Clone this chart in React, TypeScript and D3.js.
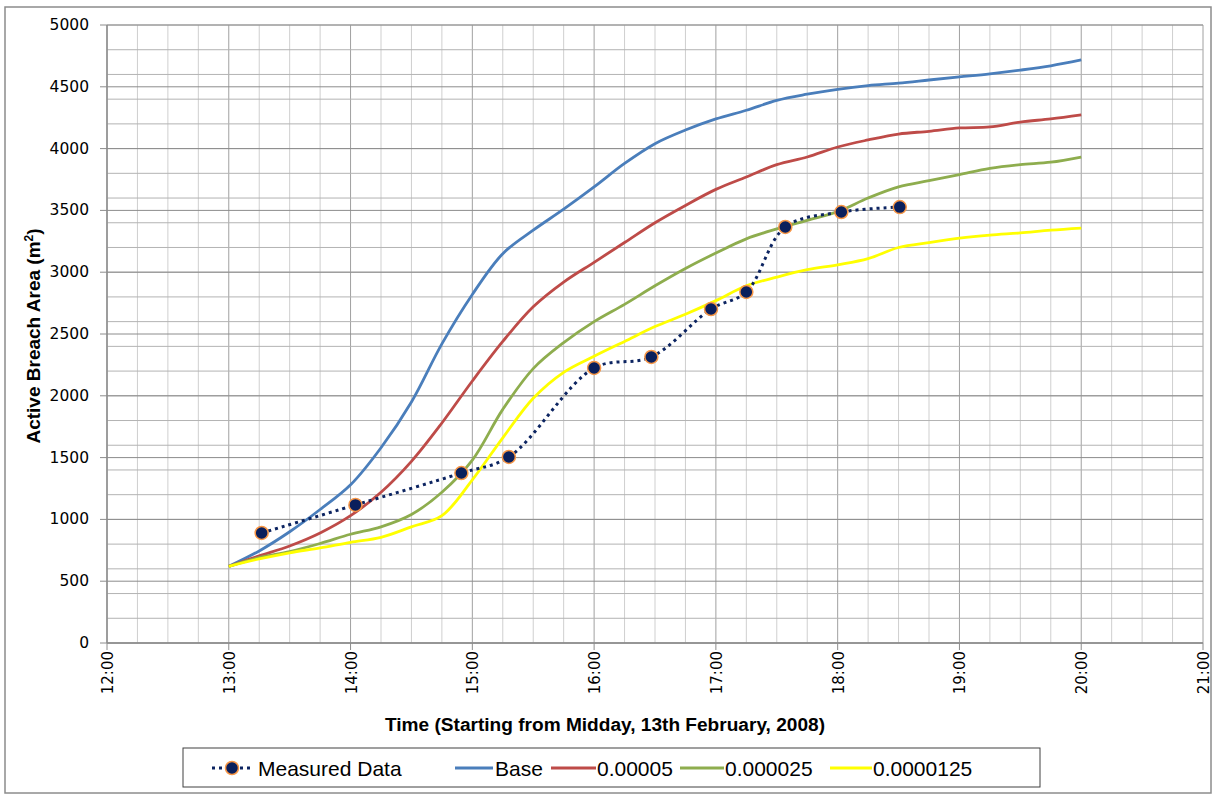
import React from "react";
import * as d3 from "d3";

// time in hours since midnight, quarter-hour steps from 13:00 to 20:00
const hours = [
  13, 13.25, 13.5, 13.75, 14, 14.25, 14.5, 14.75, 15, 15.25, 15.5, 15.75, 16,
  16.25, 16.5, 16.75, 17, 17.25, 17.5, 17.75, 18, 18.25, 18.5, 18.75, 19,
  19.25, 19.5, 19.75, 20,
];

const baseVals = [
  620, 745, 900, 1080, 1280, 1580, 1950, 2420, 2820, 3150, 3340, 3510, 3690,
  3880, 4040, 4150, 4240, 4310, 4390, 4440, 4480, 4510, 4530, 4555, 4580,
  4605, 4635, 4670, 4717,
];
const r5Vals = [
  620, 705, 785, 890, 1030, 1220, 1470, 1780, 2120, 2440, 2720, 2920, 3080,
  3240, 3400, 3540, 3670, 3770, 3870, 3932, 4013, 4070, 4118, 4140, 4167,
  4175, 4215, 4240, 4272,
];
const r25Vals = [
  620, 690, 740, 805, 880, 940, 1040, 1220, 1480, 1890, 2220, 2430, 2600,
  2740, 2890, 3030, 3155, 3270, 3350, 3420, 3490, 3600, 3690, 3740, 3790,
  3840, 3870, 3890, 3932,
];
const r125Vals = [
  620, 680, 730, 770, 815, 855, 940, 1030, 1320, 1660, 1980, 2190, 2320,
  2440, 2560, 2660, 2770, 2890, 2960, 3020, 3060, 3110, 3200, 3240, 3275,
  3300, 3318, 3340, 3357,
];

const measuredHours = [
  13.27, 14.04, 14.91, 15.3, 16.0, 16.47, 16.96, 17.25, 17.57, 18.03, 18.51,
];
const measuredVals = [
  890, 1117, 1375, 1505, 2225, 2314, 2702, 2840, 3366, 3487, 3527,
];

const xTicks = [12, 13, 14, 15, 16, 17, 18, 19, 20, 21];
const yTicks = [0, 500, 1000, 1500, 2000, 2500, 3000, 3500, 4000, 4500, 5000];

const series = [
  { name: "Base", values: baseVals, color: "#4A7EBB" },
  { name: "0.00005", values: r5Vals, color: "#BE4B48" },
  { name: "0.000025", values: r25Vals, color: "#8EAD4E" },
  { name: "0.0000125", values: r125Vals, color: "#FFFF00" },
];

const W = 1214;
const H = 796;
const plot = { left: 107, right: 1203, top: 25, bottom: 643 };

const x = d3.scaleLinear().domain([12, 21]).range([plot.left, plot.right]);
const y = d3.scaleLinear().domain([0, 5000]).range([plot.bottom, plot.top]);

const fmtTime = (h: number) => `${h}:00`;

export default function App() {
  const line = d3
    .line<[number, number]>()
    .x((d) => x(d[0]))
    .y((d) => y(d[1]))
    .curve(d3.curveCatmullRom.alpha(0.5));

  const minorX = d3.range(12, 21.001, 0.25);
  const minorY = d3.range(0, 5001, 200);

  const measuredPts: [number, number][] = measuredHours.map((h, i) => [
    h,
    measuredVals[i],
  ]);

  const legendItems = [
    { name: "Measured Data", color: "#0C2461", x0: 212, x1: 252, tx: 258, measured: true },
    { name: "Base", color: series[0].color, x0: 455, x1: 493, tx: 495 },
    { name: "0.00005", color: series[1].color, x0: 551, x1: 596, tx: 597 },
    { name: "0.000025", color: series[2].color, x0: 680, x1: 724, tx: 725 },
    { name: "0.0000125", color: series[3].color, x0: 830, x1: 872, tx: 873 },
  ];

  return (
    <svg
      width={W}
      height={H}
      style={{ position: "absolute", left: 0, top: 0, background: "#fff" }}
      fontFamily="DejaVu Sans, sans-serif"
    >
      <rect x={5} y={7} width={1206} height={786} fill="#fff" stroke="#8c8c8c" strokeWidth={1.5} />

      {/* grid */}
      <g>
        {minorX.map((h, i) => (
          <line
            key={"vx" + i}
            x1={x(h)}
            x2={x(h)}
            y1={plot.top}
            y2={plot.bottom}
            stroke={h % 1 === 0 ? "#a0a0a0" : "#cfcfcf"}
            strokeWidth={1}
          />
        ))}
        {minorY.map((v, i) => (
          <line
            key={"hy" + i}
            x1={plot.left}
            x2={plot.right}
            y1={y(v)}
            y2={y(v)}
            stroke="#b3b3b3"
            strokeWidth={1}
          />
        ))}
        {yTicks.map((v, i) => (
          <line
            key={"my" + i}
            x1={plot.left}
            x2={plot.right}
            y1={y(v)}
            y2={y(v)}
            stroke="#8c8c8c"
            strokeWidth={1}
          />
        ))}
      </g>

      {/* axes */}
      <line x1={plot.left} x2={plot.left} y1={plot.top} y2={plot.bottom} stroke="#8c8c8c" strokeWidth={1.5} />
      <line x1={plot.left} x2={plot.right} y1={plot.bottom} y2={plot.bottom} stroke="#8c8c8c" strokeWidth={1.5} />
      {yTicks.map((v) => (
        <g key={"yt" + v}>
          <line x1={plot.left - 7} x2={plot.left} y1={y(v)} y2={y(v)} stroke="#8c8c8c" />
          <text x={89} y={y(v) + 5} textAnchor="end" fontSize={15.5} fill="#000">
            {v}
          </text>
        </g>
      ))}
      {xTicks.map((h) => (
        <g key={"xt" + h}>
          <line x1={x(h)} x2={x(h)} y1={plot.bottom} y2={plot.bottom + 7} stroke="#8c8c8c" />
          <text
            transform={`translate(${x(h) + 6},${plot.bottom + 8}) rotate(-90)`}
            textAnchor="end"
            fontSize={15}
            fill="#000"
          >
            {fmtTime(h)}
          </text>
        </g>
      ))}

      {/* titles */}
      <text
        x={605}
        y={731}
        textAnchor="middle"
        fontFamily="Liberation Sans, Arial, sans-serif"
        fontWeight="bold"
        fontSize={18}
        textLength={440}
        lengthAdjust="spacingAndGlyphs"
      >
        Time (Starting from Midday, 13th February, 2008)
      </text>
      <text
        transform="translate(40,336) rotate(-90)"
        textAnchor="middle"
        fontFamily="Liberation Sans, Arial, sans-serif"
        fontWeight="bold"
        fontSize={19}
      >
        Active Breach Area (m<tspan dy={-7} fontSize={12}>2</tspan>
        <tspan dy={7}>)</tspan>
      </text>

      {/* model lines */}
      {series.map((s) => (
        <path
          key={s.name}
          d={line(hours.map((h, i) => [h, s.values[i]] as [number, number])) || ""}
          fill="none"
          stroke={s.color}
          strokeWidth={2.8}
        />
      ))}

      {/* measured */}
      <path
        d={line(measuredPts) || ""}
        fill="none"
        stroke="#0C2461"
        strokeWidth={3}
        strokeDasharray="3,4"
      />
      {measuredPts.map((p, i) => (
        <circle
          key={"m" + i}
          cx={x(p[0])}
          cy={y(p[1])}
          r={6.5}
          fill="#0A1F5C"
          stroke="#F79646"
          strokeWidth={1.5}
        />
      ))}

      {/* legend */}
      <rect x={183} y={748} width={857} height={39} fill="#fff" stroke="#404040" strokeWidth={1} />
      {legendItems.map((it) => (
        <g key={it.name}>
          <line
            x1={it.x0}
            x2={it.x1}
            y1={768}
            y2={768}
            stroke={it.color}
            strokeWidth={3}
            strokeDasharray={it.measured ? "3,4" : undefined}
          />
          {it.measured && (
            <circle cx={(it.x0 + it.x1) / 2} cy={768} r={6.5} fill="#0A1F5C" stroke="#F79646" strokeWidth={1.5} />
          )}
          <text
            x={it.tx}
            y={776}
            fontFamily="Liberation Sans, Arial, sans-serif"
            fontSize={21}
            fill="#000"
          >
            {it.name}
          </text>
        </g>
      ))}
    </svg>
  );
}
